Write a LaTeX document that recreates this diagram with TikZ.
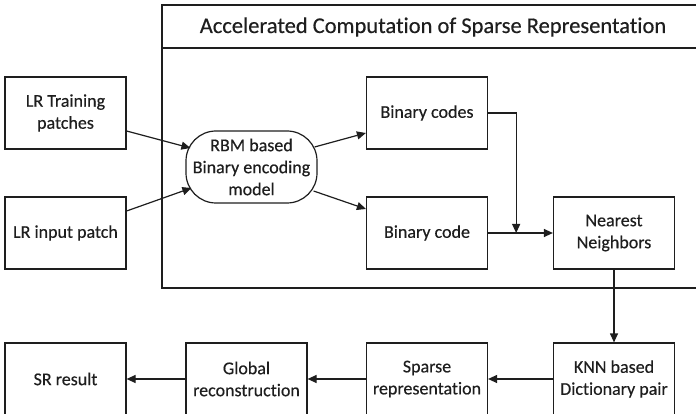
\documentclass[tikz,border=0pt]{standalone}
\usepackage{fontspec}
\setmainfont{Carlito}[Ligatures=CommonOff, FakeBold=0.4]
\usetikzlibrary{arrows.meta}
\definecolor{ink}{HTML}{1E1E1E}
\tikzset{
  box/.style={draw=ink, line width=1.2pt, minimum width=121pt, minimum height=72pt,
    inner sep=0pt, align=center, font=\fontsize{18}{22}\selectfont, text=ink},
  rbmbox/.style={box, minimum width=131pt, rounded corners=30pt},
  arr/.style={draw=ink, line width=1.2pt, -{Triangle[length=9pt,width=8pt]}},
  frame/.style={draw=ink, line width=1.2pt}
}
\begin{document}
\begin{tikzpicture}[x=1pt,y=-1pt]
\useasboundingbox (0,0) rectangle (696,414);
% frame of the accelerated computation block
\draw[frame] (700,5) -- (162,5) -- (162,288) -- (700,288);
\draw[frame] (162,48) -- (700,48);
\node[font=\fontsize{22.5}{26}\selectfont, text=ink] (title) at (433,27) {Accelerated Computation of Sparse Representation};
% nodes
\node[box] (lrt) at (65.5,113) {LR Training\\patches};
\node[box] (lri) at (65.5,233) {LR input patch};
\node[rbmbox] (rbm) at (251.5,167) {RBM based\\Binary encoding\\model};
\node[box] (bcs) at (427,113) {Binary codes};
\node[box] (bc) at (427,233) {Binary code};
\node[box] (nn) at (614,233) {Nearest\\Neighbors};
\node[box] (knn) at (614,379) {KNN based\\Dictionary pair};
\node[box] (sp) at (427,379) {Sparse\\representation};
\node[box] (gr) at (246.5,379) {Global\\reconstruction};
\node[box] (sr) at (65.5,379) {SR result};
% connectors
\draw[arr] ([shift={(0,18)}]lrt.east) -- ([shift={(5,-19)}]rbm.west);
\draw[arr] ([shift={(0,-22)}]lri.east) -- ([shift={(6,21)}]rbm.west);
\draw[arr] ([shift={(-3,-20)}]rbm.east) -- ([shift={(0,20)}]bcs.west);
\draw[arr] ([shift={(-4,24)}]rbm.east) -- ([shift={(0,-24)}]bc.west);
\path (bc.east) -- (nn.west) coordinate[pos=0.433] (j);
\draw[arr] (bcs.east) -| (j);
\draw[arr] (bc.east) -- (nn.west);
\draw[arr] (nn.south) -- (knn.north);
\draw[arr] (knn.west) -- (sp.east);
\draw[arr] (sp.west) -- (gr.east);
\draw[arr] (gr.west) -- (sr.east);
\end{tikzpicture}
\end{document}
